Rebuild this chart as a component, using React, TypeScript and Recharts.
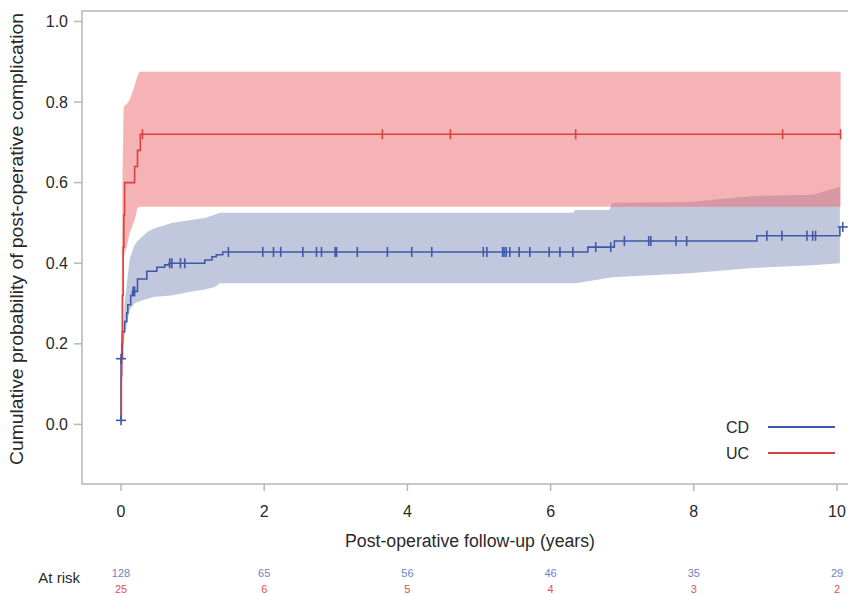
import React from 'react';
import {
  ComposedChart, Line, Area, Scatter, XAxis, YAxis, ReferenceArea, Legend,
} from 'recharts';

// ---------- data ----------
const groupNames = ['CD', 'UC'];
const groupColors = ['#3f58a8', '#d8433f'];
const bandColors = ['#838fbb', '#ed676b'];

// CD cumulative incidence step function
const cdStepT = [0, 0, 0.02, 0.05, 0.08, 0.095, 0.135, 0.16, 0.23, 0.36, 0.5, 0.61, 0.67, 1.17, 1.27, 1.33, 1.42, 6.52, 6.89, 8.88, 10.04, 10.04];
const cdStepP = [0.01, 0.163, 0.23, 0.255, 0.277, 0.297, 0.32, 0.33, 0.361, 0.38, 0.39, 0.396, 0.4, 0.408, 0.416, 0.421, 0.428, 0.44, 0.455, 0.468, 0.468, 0.49];

// CD confidence band
const cdBandT = [0.01, 0.03, 0.05, 0.12, 0.19, 0.23, 0.37, 0.47, 0.71, 0.99, 1.17, 1.31, 1.38, 6.31, 6.35, 6.82, 6.86, 7.94, 8.82, 9.66, 10.04];
const cdBandLow = [0.14, 0.19, 0.22, 0.284, 0.3, 0.304, 0.312, 0.317, 0.32, 0.33, 0.335, 0.341, 0.35, 0.35, 0.35, 0.364, 0.365, 0.375, 0.388, 0.395, 0.4];
const cdBandHigh = [0.17, 0.22, 0.3, 0.41, 0.445, 0.455, 0.478, 0.487, 0.5, 0.508, 0.512, 0.52, 0.525, 0.525, 0.532, 0.532, 0.55, 0.552, 0.567, 0.57, 0.59];

// CD censored observations
const cdCensorT = [0.17, 0.19, 0.68, 0.71, 0.83, 0.89, 1.5, 1.98, 2.13, 2.23, 2.54, 2.73, 2.8, 2.99, 3.01, 3.3, 3.72, 4.06, 4.34, 5.06, 5.11, 5.33, 5.35, 5.38, 5.43, 5.56, 5.71, 5.98, 6.13, 6.31, 6.63, 6.84, 7.03, 7.37, 7.4, 7.75, 7.9, 9.02, 9.23, 9.58, 9.66, 9.7];
const cdCensorP = [0.33, 0.33, 0.4, 0.4, 0.4, 0.4, 0.428, 0.428, 0.428, 0.428, 0.428, 0.428, 0.428, 0.428, 0.428, 0.428, 0.428, 0.428, 0.428, 0.428, 0.428, 0.428, 0.428, 0.428, 0.428, 0.428, 0.428, 0.428, 0.428, 0.428, 0.44, 0.44, 0.455, 0.455, 0.455, 0.455, 0.455, 0.468, 0.468, 0.468, 0.468, 0.468];
const cdPlusT = [0, 0, 10.08];
const cdPlusP = [0.01, 0.163, 0.49];

// UC cumulative incidence step function
const ucStepT = [0, 0.005, 0.01, 0.02, 0.03, 0.04, 0.05, 0.19, 0.23, 0.27, 10.05];
const ucStepP = [0.02, 0.12, 0.2, 0.32, 0.44, 0.52, 0.6, 0.64, 0.68, 0.72, 0.72];

// UC confidence band
const ucBandT = [0, 0.02, 0.035, 0.04, 0.08, 0.12, 0.19, 0.23, 0.26, 0.28, 10.05];
const ucBandLow = [0.02, 0.15, 0.35, 0.42, 0.44, 0.475, 0.507, 0.537, 0.54, 0.54, 0.54];
const ucBandHigh = [0.1, 0.6, 0.78, 0.79, 0.795, 0.805, 0.84, 0.865, 0.875, 0.875, 0.875];

// UC censored observations
const ucCensorT = [0.3, 3.65, 4.6, 6.35, 9.24, 10.05];
const ucCensorP = [0.72, 0.72, 0.72, 0.72, 0.72, 0.72];

// axis ticks & number at risk
const xTicks = [0, 2, 4, 6, 8, 10];
const yTicks = [0, 0.2, 0.4, 0.6, 0.8, 1.0];
const cdAtRisk = [128, 65, 56, 46, 35, 29];
const ucAtRisk = [25, 6, 5, 4, 3, 2];

const xTitle = 'Post-operative follow-up (years)';
const yTitle = 'Cumulative probability of post-operative complication';
const atRiskLabel = 'At risk';

// ---------- derived series ----------
const pts = (t: number[], p: number[]) => t.map((v, i) => ({ t: v, p: p[i] }));
const band = (t: number[], lo: number[], hi: number[]) => t.map((v, i) => ({ t: v, band: [lo[i], hi[i]] }));

const cdStep = pts(cdStepT, cdStepP);
const ucStep = pts(ucStepT, ucStepP);
const cdBand = band(cdBandT, cdBandLow, cdBandHigh);
const ucBand = band(ucBandT, ucBandLow, ucBandHigh);
const cdCensor = pts(cdCensorT, cdCensorP);
const cdPlus = pts(cdPlusT, cdPlusP);
const ucCensor = pts(ucCensorT, ucCensorP);

const FONT = '"Liberation Sans", Arial, sans-serif';
const AXIS_GRAY = '#b4b8b8';
const TEXT = '#2a2a2a';

const makeTick = (color: string) => (props: any) => {
  const { cx, cy } = props;
  if (cx == null || cy == null) return <g />;
  return <line x1={cx} x2={cx} y1={cy - 5} y2={cy + 5} stroke={color} strokeWidth={1.6} />;
};
const makePlus = (color: string) => (props: any) => {
  const { cx, cy } = props;
  if (cx == null || cy == null) return <g />;
  return (
    <g>
      <line x1={cx} x2={cx} y1={cy - 5} y2={cy + 5} stroke={color} strokeWidth={1.6} />
      <line x1={cx - 5} x2={cx + 5} y1={cy} y2={cy} stroke={color} strokeWidth={1.6} />
    </g>
  );
};

// x tick label plus the number-at-risk rows beneath it
const XTickWithRisk = (props: any) => {
  const { x, y, payload } = props;
  const idx = xTicks.indexOf(Number(payload.value));
  return (
    <g fontFamily={FONT} textAnchor="middle">
      <text x={x} y={y} dy="0.71em" fontSize={16} fill={TEXT}>{payload.value}</text>
      {idx >= 0 && <text x={x} y={y + 71} fontSize={11} fill="#6f82c4">{cdAtRisk[idx]}</text>}
      {idx >= 0 && <text x={x} y={y + 87} fontSize={11} fill="#e0524c">{ucAtRisk[idx]}</text>}
    </g>
  );
};

const LegendContent = () => (
  <svg width={130} height={50} style={{ display: 'block' }}>
    {groupNames.map((n, i) => (
      <g key={n}>
        <text x={34} y={20 + i * 26} textAnchor="end" fontFamily={FONT} fontSize={16} fill={TEXT}>{n}</text>
        <line x1={53} x2={120} y1={14 + i * 26} y2={14 + i * 26} stroke={groupColors[i]} strokeWidth={2} />
      </g>
    ))}
  </svg>
);

export default function App() {
  return (
    <div style={{ position: 'fixed', left: 0, top: 0, width: 848, height: 596, overflow: 'hidden', background: '#fff' }}>
      <ComposedChart width={860} height={596} margin={{ top: 11, left: 8, right: 2, bottom: 42 }}>
        <XAxis
          dataKey="t"
          type="number"
          domain={[-0.545, 10.293]}
          allowDataOverflow
          ticks={xTicks}
          tickSize={7}
          tickMargin={15}
          height={70}
          axisLine={false}
          tickLine={{ stroke: AXIS_GRAY, strokeWidth: 1.5 }}
          tick={<XTickWithRisk />}
          label={{
            content: (p: any) => {
              const vb = p.viewBox || {};
              return (
                <g>
                  <text x={vb.x + vb.width / 2} y={547} textAnchor="middle" fontFamily={FONT} fontSize={18} fill={TEXT}
                    textLength={250} lengthAdjust="spacingAndGlyphs">{xTitle}</text>
                  <text x={vb.x - 2} y={583} textAnchor="end" fontFamily={FONT} fontSize={15} fill={TEXT}>{atRiskLabel}</text>
                </g>
              );
            },
          }}
        />
        <YAxis
          type="number"
          domain={[-0.148, 1.026]}
          allowDataOverflow
          ticks={yTicks}
          width={74}
          tickSize={8}
          tickMargin={6}
          axisLine={false}
          tickLine={{ stroke: AXIS_GRAY, strokeWidth: 1.5 }}
          tickFormatter={(v: number) => v.toFixed(1)}
          tick={{ fontFamily: FONT, fontSize: 16, fill: TEXT }}
          label={{
            content: () => (
              <text x={23} y={239} transform="rotate(-90 23 239)" textAnchor="middle" fontFamily={FONT} fontSize={18} fill={TEXT}
                textLength={452} lengthAdjust="spacingAndGlyphs">{yTitle}</text>
            ),
          }}
        />
        <ReferenceArea x1={-0.545} x2={10.293} y1={-0.148} y2={1.026} fill="none" stroke={AXIS_GRAY} strokeWidth={1.5} ifOverflow="visible" />
        <Area data={cdBand} dataKey="band" type="linear" stroke="none" fill={bandColors[0]} fillOpacity={0.5} isAnimationActive={false} legendType="none" />
        <Area data={ucBand} dataKey="band" type="linear" stroke="none" fill={bandColors[1]} fillOpacity={0.5} isAnimationActive={false} legendType="none" />
        <Line data={cdStep} dataKey="p" name={groupNames[0]} type="stepAfter" stroke={groupColors[0]} strokeWidth={1.6} dot={false} isAnimationActive={false} />
        <Line data={ucStep} dataKey="p" name={groupNames[1]} type="stepAfter" stroke={groupColors[1]} strokeWidth={1.6} dot={false} isAnimationActive={false} />
        <Scatter data={cdCensor} dataKey="p" shape={makeTick(groupColors[0])} isAnimationActive={false} legendType="none" />
        <Scatter data={cdPlus} dataKey="p" shape={makePlus(groupColors[0])} isAnimationActive={false} legendType="none" />
        <Scatter data={ucCensor} dataKey="p" shape={makeTick(groupColors[1])} isAnimationActive={false} legendType="none" />
        <Legend
          layout="vertical"
          align="center"
          verticalAlign="middle"
          content={() => <LegendContent />}
          wrapperStyle={{ position: 'absolute', left: 715, top: 413, width: 130, height: 50 }}
        />
      </ComposedChart>
    </div>
  );
}
